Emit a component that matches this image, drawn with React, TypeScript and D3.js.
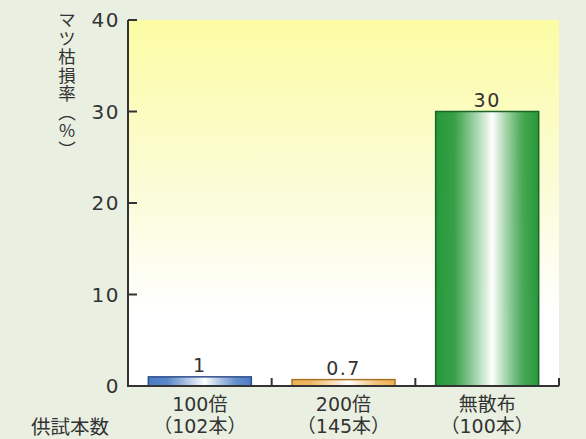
import React from "react";
import * as d3 from "d3";

const categories = ["100倍", "200倍", "無散布"];
const sampleCounts = ["（102本）", "（145本）", "（100本）"];
const values = [1, 0.7, 30];
const valueLabels = ["1", "0.7", "30"];
const yTicks = [0, 10, 20, 30, 40];
const yTitle = "マツ枯損率（%）";
const xTitle = "供試本数";

const barColors = [
  { edge: "#4a7cc4", mid: "#ffffff", stroke: "#2f4f8a" },
  { edge: "#efb256", mid: "#ffffff", stroke: "#a87426" },
  { edge: "#26983a", mid: "#ffffff", stroke: "#1a6428" },
];

const W = 586;
const H = 439;
const left = 128;
const right = 559;
const top = 20;
const bottom = 386;

export default function App() {
  const x = d3
    .scaleBand<string>()
    .domain(categories)
    .range([left, right])
    .paddingInner(0.283)
    .paddingOuter(0.1415);
  const y = d3.scaleLinear().domain([0, 40]).range([bottom, top]);
  const step = x.step();
  const font = "'DejaVu Sans', 'Noto Sans CJK JP', sans-serif";
  const cjk = "'Noto Sans CJK JP', sans-serif";
  const txt = "#333333";

  return (
    <svg
      width={W}
      height={H}
      style={{ position: "absolute", left: 0, top: 0, display: "block" }}
    >
      <defs>
        <linearGradient id="plotbg" x1="0" y1="0" x2="0" y2="1">
          <stop offset="0" stopColor="#fcfca4" />
          <stop offset="0.45" stopColor="#fbfcd6" />
          <stop offset="0.8" stopColor="#ffffff" />
          <stop offset="1" stopColor="#ffffff" />
        </linearGradient>
        {barColors.map((c, i) => (
          <linearGradient key={i} id={`bar${i}`} x1="0" y1="0" x2="1" y2="0">
            <stop offset="0" stopColor={c.edge} />
            <stop offset="0.18" stopColor={c.edge} stopOpacity={0.92} />
            <stop offset="0.55" stopColor={c.mid} />
            <stop offset="0.85" stopColor={c.edge} stopOpacity={0.85} />
            <stop offset="1" stopColor={c.edge} />
          </linearGradient>
        ))}
      </defs>
      <rect x={0} y={0} width={W} height={H} fill="#e9f0e1" />
      <rect
        x={left}
        y={top}
        width={right - left}
        height={bottom - top}
        fill="url(#plotbg)"
      />

      {/* bars */}
      {categories.map((c, i) => {
        const bx = x(c)!;
        const by = y(values[i]);
        return (
          <g key={c}>
            <rect
              x={bx}
              y={by}
              width={x.bandwidth()}
              height={bottom - by}
              fill={`url(#bar${i})`}
              stroke={barColors[i].stroke}
              strokeWidth={1.5}
            />
            <text
              x={bx + x.bandwidth() / 2}
              y={by - 5}
              textAnchor="middle"
              fontFamily={font}
              fontSize={19}
              letterSpacing={1.5}
              fill={txt}
            >
              {valueLabels[i]}
            </text>
          </g>
        );
      })}

      {/* axes */}
      <line x1={left} y1={top} x2={left} y2={bottom} stroke="#333" strokeWidth={2} />
      <line x1={left - 1} y1={bottom} x2={right} y2={bottom} stroke="#333" strokeWidth={2} />
      {yTicks.map((t) => (
        <g key={t}>
          {t > 0 && (
            <line x1={left} x2={left + 9} y1={y(t)} y2={y(t)} stroke="#333" strokeWidth={2} />
          )}
          <text
            x={left - 8}
            y={y(t)}
            dy="0.36em"
            textAnchor="end"
            fontFamily={font}
            fontSize={20}
            letterSpacing={1.5}
            fill={txt}
          >
            {t}
          </text>
        </g>
      ))}
      {categories.map((c, i) => (
        <line
          key={c}
          x1={left + step * (i + 1)}
          x2={left + step * (i + 1)}
          y1={bottom}
          y2={bottom - 8}
          stroke="#333"
          strokeWidth={2}
        />
      ))}

      {/* x labels */}
      {categories.map((c, i) => (
        <g key={c}>
          <text
            x={x(c)! + x.bandwidth() / 2}
            y={411}
            textAnchor="middle"
            fontFamily={font}
            fontSize={19}
            fill={txt}
          >
            {c}
          </text>
          <text
            x={x(c)! + x.bandwidth() / 2}
            y={433}
            textAnchor="middle"
            fontFamily={font}
            fontSize={19}
            fill={txt}
          >
            {sampleCounts[i]}
          </text>
        </g>
      ))}
      <text x={31} y={434} fontFamily={cjk} fontSize={19.5} fill={txt}>
        {xTitle}
      </text>

      {/* y title, vertical */}
      <text
        x={67}
        y={11}
        style={{ writingMode: "vertical-rl", textOrientation: "upright" }}
        fontFamily={cjk}
        fontSize={17.5}
        letterSpacing={1}
        fill={txt}
      >
        {yTitle}
      </text>
    </svg>
  );
}
